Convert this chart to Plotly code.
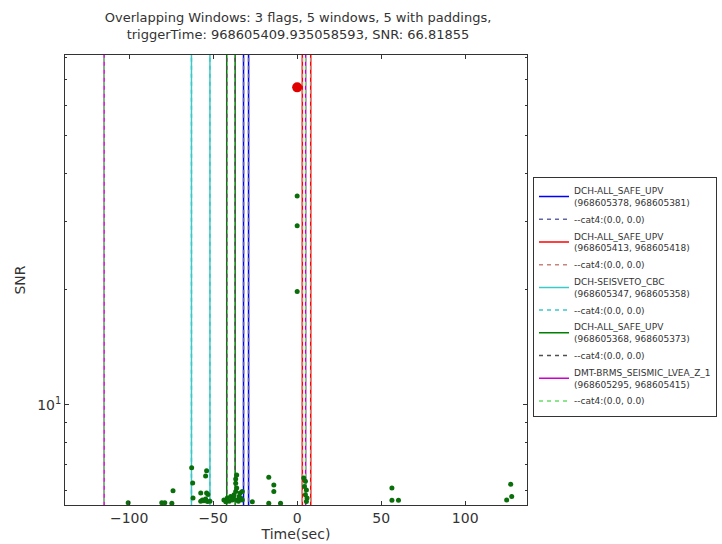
import plotly.graph_objects as go

# ---------------- data ----------------
trigger_time = 968605409.935058593
trigger_time_text = "968605409.935058593"
trigger_snr = 66.81855

flag_names = ["DCH-ALL_SAFE_UPV", "DCH-ALL_SAFE_UPV", "DCH-SEISVETO_CBC",
              "DCH-ALL_SAFE_UPV", "DMT-BRMS_SEISMIC_LVEA_Z_1"]
flag_starts = [968605378, 968605413, 968605347, 968605368, 968605295]
flag_ends = [968605381, 968605418, 968605358, 968605373, 968605415]
pad_label = "--cat4:(0.0, 0.0)"

solid_colors = ["#0000ff", "#ff0000", "#3fc8c8", "#008000", "#cc00cc"]
dash_colors = ["#6464a8", "#c88478", "#3cc8c8", "#505050", "#66dd66"]

trig_t = [-100.6, -80.6, -78.8, -74.6, -73.9, -62.8, -62.2, -62.0, -57.4, -57.4,
          -56.4, -55.5, -54.5, -54.5, -53.9, -53.9, -53.4, -53.1, -51.9, -43.6,
          -42.5, -41.6, -40.5, -39.6, -38.6, -38.0, -37.6, -36.6, -36.0, -36.6,
          -36.6, -36.0, -35.6, -35.0, -34.6, -34.0, -33.6, -32.7, -32.7, -26.7,
          -16.9, -13.9, -13.9, -16.9, -9.9, 0.0, 0.0, 0.0, 3.9, 4.9,
          4.3, 5.5, 4.9, 5.9, 5.5, 56.4, 56.4, 60.3, 127.1, 127.7, 124.7]
trig_snr = [5.57, 5.57, 5.57, 5.55, 5.98, 6.87, 6.27, 5.73, 5.90, 5.62,
            5.66, 5.64, 5.70, 6.54, 6.74, 5.90, 5.61, 5.85, 5.62, 5.66,
            5.60, 5.73, 5.62, 5.78, 5.66, 5.70, 5.84, 5.96, 6.08, 6.26,
            6.42, 6.58, 5.66, 5.62, 5.78, 5.90, 5.73, 5.66, 5.96, 5.60,
            6.49, 6.19, 5.96, 5.55, 5.55, 34.9, 29.2, 19.7, 6.46, 6.33,
            6.14, 6.01, 5.84, 5.73, 5.61, 6.08, 5.65, 5.65, 6.22, 5.78, 5.66]

x_tick_vals = [-100, -50, 0, 50, 100]
y_tick_vals = [10]
y_tick_text = ["10<sup>1</sup>"]
y_minor_vals = [6, 7, 8, 9, 20, 30, 40, 50, 60, 70, 80]

# ---------------- figure ----------------
fig = go.Figure()
font = "DejaVu Sans, Liberation Sans, sans-serif"
txt = "#333333"

for i in range(len(flag_names)):
    s = flag_starts[i] - trigger_time
    e = flag_ends[i] - trigger_time
    label = f"{flag_names[i]}<br>({flag_starts[i]}, {flag_ends[i]})"
    fig.add_trace(go.Scatter(
        x=[s, s, None, e, e], y=[1, 1000, None, 1, 1000], mode="lines",
        line=dict(color=solid_colors[i], width=1.5), name=label, hoverinfo="skip"))
    fig.add_trace(go.Scatter(
        x=[s, s, None, e, e], y=[1, 1000, None, 1, 1000], mode="lines",
        line=dict(color=dash_colors[i], width=1.5, dash="4px,4px"), name=pad_label,
        hoverinfo="skip"))

fig.add_trace(go.Scatter(
    x=trig_t, y=trig_snr, mode="markers",
    marker=dict(color="#0a6e0a", size=5, line=dict(width=0)),
    showlegend=False))
fig.add_trace(go.Scatter(
    x=[0.0], y=[trigger_snr], mode="markers",
    marker=dict(color="#e00000", size=10, line=dict(width=0)),
    showlegend=False))

fig.update_layout(
    width=722, height=544,
    paper_bgcolor="white", plot_bgcolor="white",
    margin=dict(l=65, r=195, t=55, b=39, autoexpand=False),
    font=dict(family=font, color=txt, size=13),
    title=dict(
        text=("Overlapping Windows: 3 flags, 5 windows, 5 with paddings,<br>"
              f"triggerTime: {trigger_time_text}, SNR: {trigger_snr}"),
        x=298 / 722, xanchor="center", yref="container", y=1 - 22 / 544,
        yanchor="middle",
        font=dict(size=13, family=font, color=txt)),
    showlegend=True,
    legend=dict(
        x=1.013, xanchor="left", y=0.728, yanchor="top",
        bgcolor="white", bordercolor=txt, borderwidth=1,
        font=dict(size=9, family=font, color=txt),
        tracegroupgap=0, itemwidth=30),
)

fig.update_xaxes(
    range=[-138.2, 136.8], tickvals=x_tick_vals,
    showgrid=False, zeroline=False,
    showline=True, linecolor=txt, linewidth=1, mirror="ticks",
    ticks="inside", ticklen=4, tickcolor=txt,
    tickfont=dict(size=14, family=font, color=txt),
    title=dict(text="Time(sec)", font=dict(size=14, family=font, color=txt),
               standoff=0),
)
fig.update_yaxes(
    type="log", range=[0.740, 1.909],
    tickvals=y_tick_vals, ticktext=y_tick_text,
    showgrid=False, zeroline=False,
    showline=True, linecolor=txt, linewidth=1, mirror="ticks",
    ticks="inside", ticklen=4, tickcolor=txt,
    minor=dict(tickvals=y_minor_vals, ticks="inside", ticklen=2, tickcolor=txt,
               showgrid=False),
    tickfont=dict(size=14, family=font, color=txt),
    title=dict(text="SNR", font=dict(size=14, family=font, color=txt),
               standoff=8),
)

fig.write_html("out.html")
